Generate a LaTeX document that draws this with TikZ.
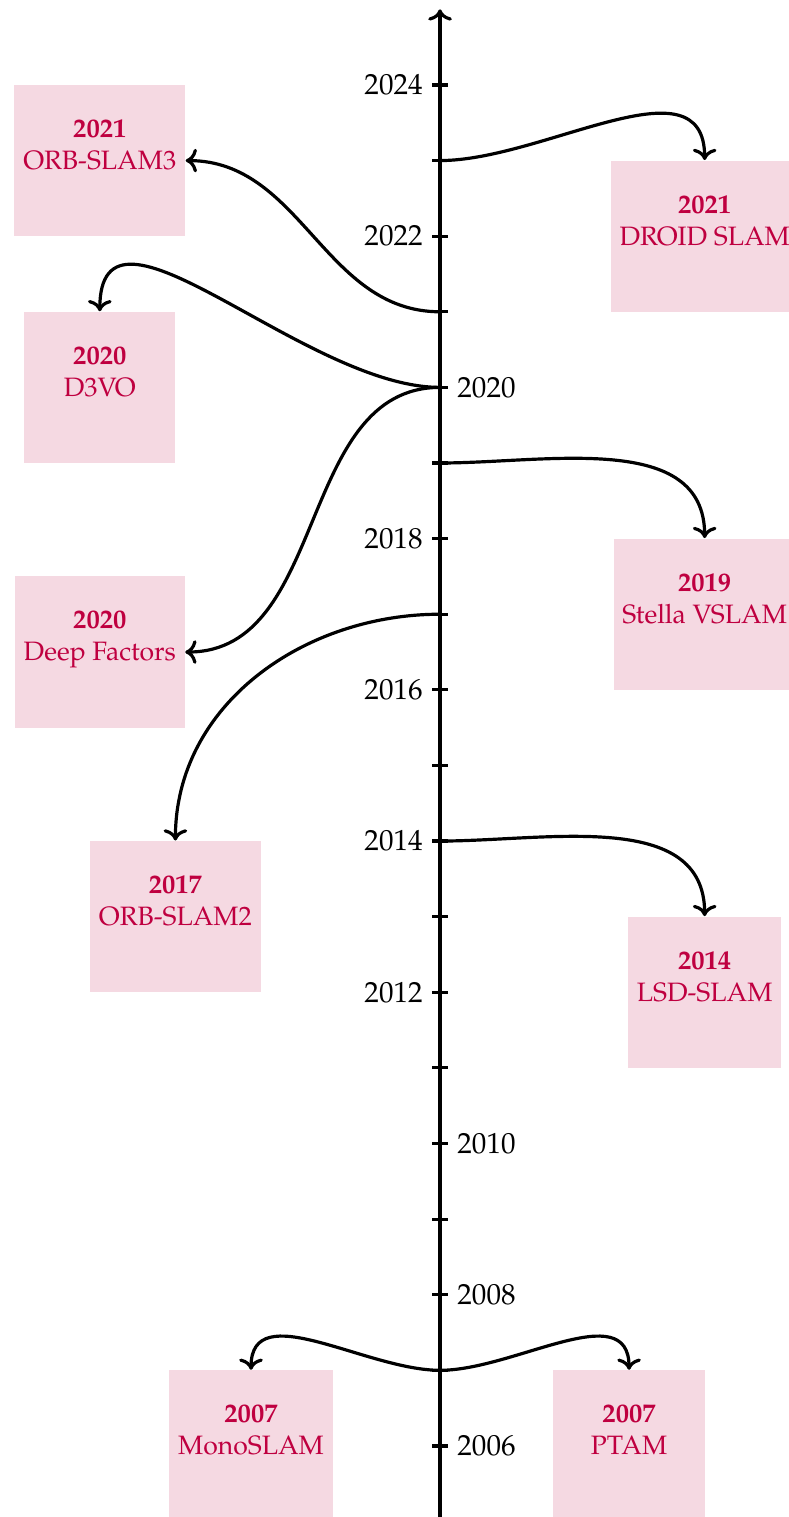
\documentclass[tikz,border=0pt]{standalone}
\usepackage{fontspec}
\setmainfont{TeX Gyre Pagella}
\usetikzlibrary{arrows.meta}
\begin{document}
\begin{tikzpicture}[
  x=1cm, y=1cm,
  >={Computer Modern Rightarrow},
  axis/.style={very thick},
  link/.style={very thick, ->},
  event/.style={fill=purple!15, text=purple, align=center,
    minimum width=2cm, minimum height=2cm},
  yearlabel/.style={font=\fontsize{10.95pt}{13.6pt}\selectfont},
  yearleft/.style={yearlabel, anchor=east, xshift=-3pt},
  yearright/.style={yearlabel, anchor=west, xshift=3pt}
]
% page frame
\useasboundingbox (-5.820,0.060) rectangle (4.603,20.124);

% time axis, one unit per year, 2005 at the bottom
\draw[axis, ->] (0,0) -- (0,20);
\foreach \k in {1,...,19} {
  \pgfmathtruncatemacro{\yr}{2005+\k}
  \coordinate (y\yr) at (0,\k);
  \draw[axis] ([xshift=-3pt]y\yr) -- ([xshift=3pt]y\yr);
}

% year labels
\node[yearleft]  (l2024) at (y2024) {2024};
\node[yearleft]  (l2022) at (y2022) {2022};
\node[yearright] (l2020) at (y2020) {2020};
\node[yearleft]  (l2018) at (y2018) {2018};
\node[yearleft]  (l2016) at (y2016) {2016};
\node[yearleft]  (l2014) at (y2014) {2014};
\node[yearleft]  (l2012) at (y2012) {2012};
\node[yearright] (l2010) at (y2010) {2010};
\node[yearright] (l2008) at (y2008) {2008};
\node[yearright] (l2006) at (y2006) {2006};

% systems
\node[event] (orb3)   at (-4.5,18)   {\textbf{2021}\\ORB-SLAM3\\\mbox{}};
\node[event] (droid)  at (3.5,17)    {\textbf{2021}\\DROID SLAM\\\mbox{}};
\node[event] (d3vo)   at (-4.5,15)   {\textbf{2020}\\D3VO\\\mbox{}};
\node[event] (deepf)  at (-4.5,11.5) {\textbf{2020}\\Deep Factors\\\mbox{}};
\node[event] (stella) at (3.5,12)    {\textbf{2019}\\Stella VSLAM\\\mbox{}};
\node[event] (orb2)   at (-3.5,8)    {\textbf{2017}\\ORB-SLAM2\\\mbox{}};
\node[event] (lsd)    at (3.5,7)     {\textbf{2014}\\LSD-SLAM\\\mbox{}};
\node[event] (mono)   at (-2.5,1)    {\textbf{2007}\\MonoSLAM\\\mbox{}};
\node[event] (ptam)   at (2.5,1)     {\textbf{2007}\\PTAM\\\mbox{}};

% links from the axis
\draw[link] (y2021) to[out=180, in=0]  (orb3.east);
\draw[link] (y2023) to[out=0,   in=90] (droid.north);
\draw[link] (y2020) to[out=180, in=90] (d3vo.north);
\draw[link] (y2020) to[out=180, in=0]  (deepf.east);
\draw[link] (y2019) to[out=0,   in=90] (stella.north);
\draw[link] (y2017) to[out=180, in=90] (orb2.north);
\draw[link] (y2014) to[out=0,   in=90] (lsd.north);
\draw[link] (y2007) to[out=180, in=90] (mono.north);
\draw[link] (y2007) to[out=0,   in=90] (ptam.north);
\end{tikzpicture}
\end{document}
